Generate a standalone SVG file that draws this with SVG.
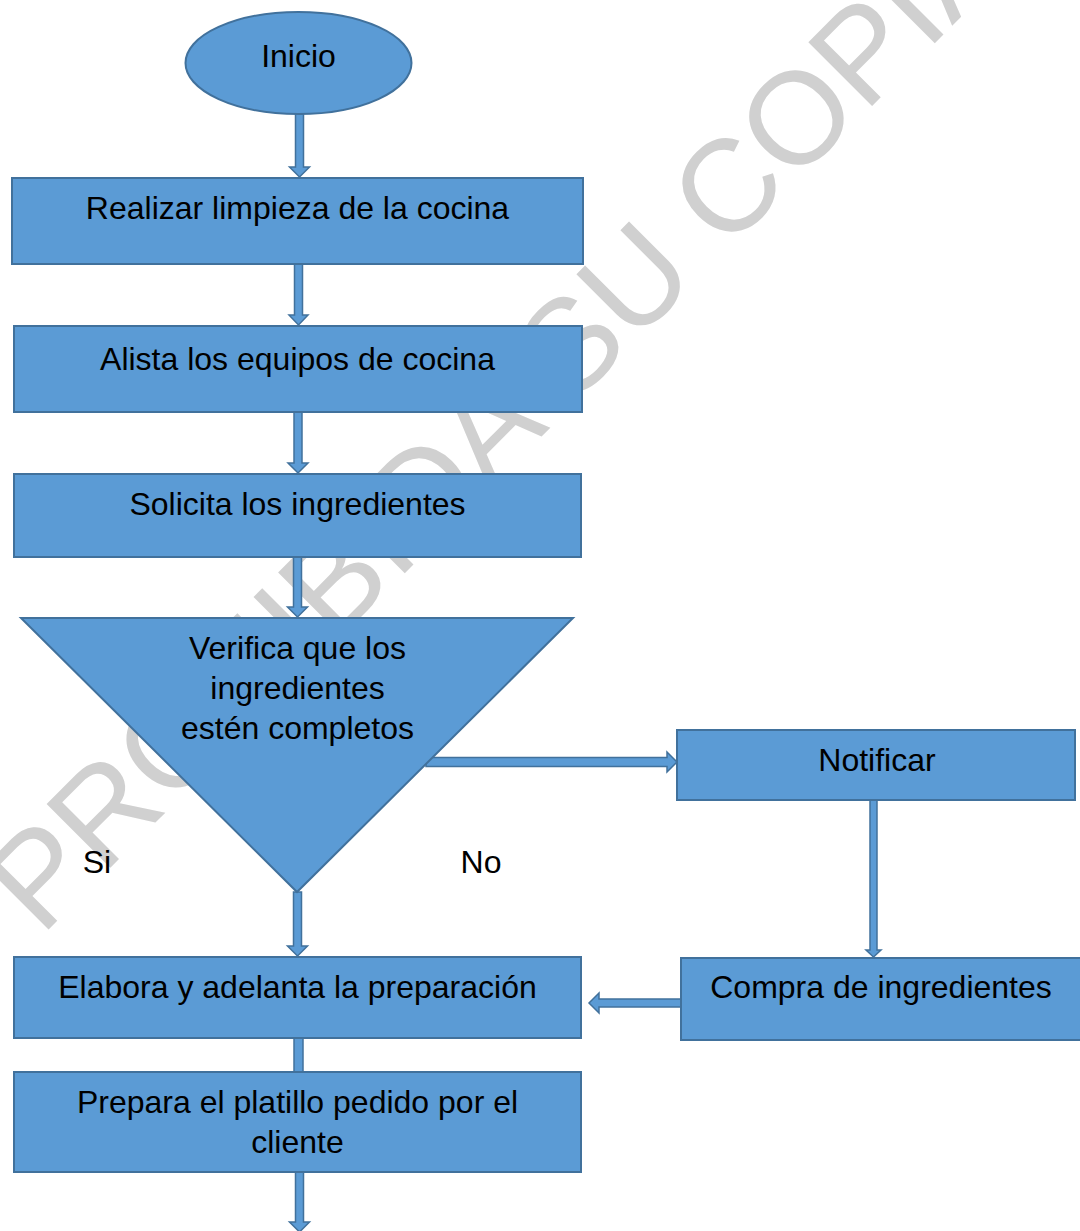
<svg xmlns="http://www.w3.org/2000/svg" width="1080" height="1231" viewBox="0 0 1080 1231">
<style>
.n{fill:#5b9bd5;stroke:#41719c;stroke-width:2}
.a{fill:#5b9bd5;stroke:#41719c;stroke-width:1.5;stroke-linejoin:miter}
.t{font-family:"Liberation Sans",Arial,sans-serif;font-size:32px;fill:#000;text-anchor:middle}
.w{font-family:"Liberation Sans",Arial,sans-serif;font-size:131px;fill:#d0d0d0}
</style>
<rect width="1080" height="1231" fill="#fff"/>
<text class="w" transform="translate(41 937) rotate(-45)">PROHIBIDA SU COPIA</text>
<g id="connectors">
<path class="a" d="M295.5 114 H303.5 V167 H309.5 L299.5 177 L289.5 167 H295.5 Z"/>
<path class="a" d="M294.5 264 H302.5 V315 H308 L298.5 325 L289 315 H294.5 Z"/>
<path class="a" d="M294 412 H302 V463 H308 L298 473 L288 463 H294 Z"/>
<path class="a" d="M293.5 557 H301.5 V607 H307.5 L297.5 617 L287.5 607 H293.5 Z"/>
<path class="a" d="M293.5 892 H301.5 V946 H307.5 L297.5 956 L287.5 946 H293.5 Z"/>
<rect class="a" x="294" y="1038" width="9" height="34"/>
<path class="a" d="M295.5 1172 H303.5 V1222 H309.5 L299.5 1232 L289.5 1222 H295.5 Z"/>
<path class="a" d="M426 757.5 H667 V752 L677 762 L667 772 V766.5 H426 Z"/>
<path class="a" d="M870 800 H877 V950 H881 L873.5 957 L866 950 H870 Z"/>
<path class="a" d="M681 999 H599 V993 L589 1003 L599 1013 V1007 H681 Z"/>
</g>
<g id="inicio"><ellipse class="n" cx="298.5" cy="63" rx="113" ry="51"/><text class="t" x="298.5" y="67">Inicio</text></g>
<g id="limpieza"><rect class="n" x="12" y="178" width="571" height="86"/><text class="t" x="297.5" y="219">Realizar limpieza de la cocina</text></g>
<g id="equipos"><rect class="n" x="14" y="326" width="568" height="86"/><text class="t" x="297.5" y="370">Alista los equipos de cocina</text></g>
<g id="solicita"><rect class="n" x="14" y="474" width="567" height="83"/><text class="t" x="297.5" y="515">Solicita los ingredientes</text></g>
<g id="verifica"><polygon class="n" points="21,618 573,618 297,892"/><text class="t" x="297.5" y="659">Verifica que los</text><text class="t" x="297.5" y="699">ingredientes</text><text class="t" x="297.5" y="739">estén completos</text></g>
<g id="notificar"><rect class="n" x="677" y="730" width="398" height="70"/><text class="t" x="877" y="771">Notificar</text></g>
<g id="compra"><rect class="n" x="681" y="958" width="402" height="82"/><text class="t" x="881" y="998">Compra de ingredientes</text></g>
<g id="elabora"><rect class="n" x="14" y="957" width="567" height="81"/><text class="t" x="297.5" y="998">Elabora y adelanta la preparación</text></g>
<g id="prepara"><rect class="n" x="14" y="1072" width="567" height="100"/><text class="t" x="297.5" y="1113">Prepara el platillo pedido por el</text><text class="t" x="297.5" y="1153">cliente</text></g>
<g id="labels"><text class="t" x="97" y="873">Si</text><text class="t" x="481" y="873">No</text></g>
</svg>
